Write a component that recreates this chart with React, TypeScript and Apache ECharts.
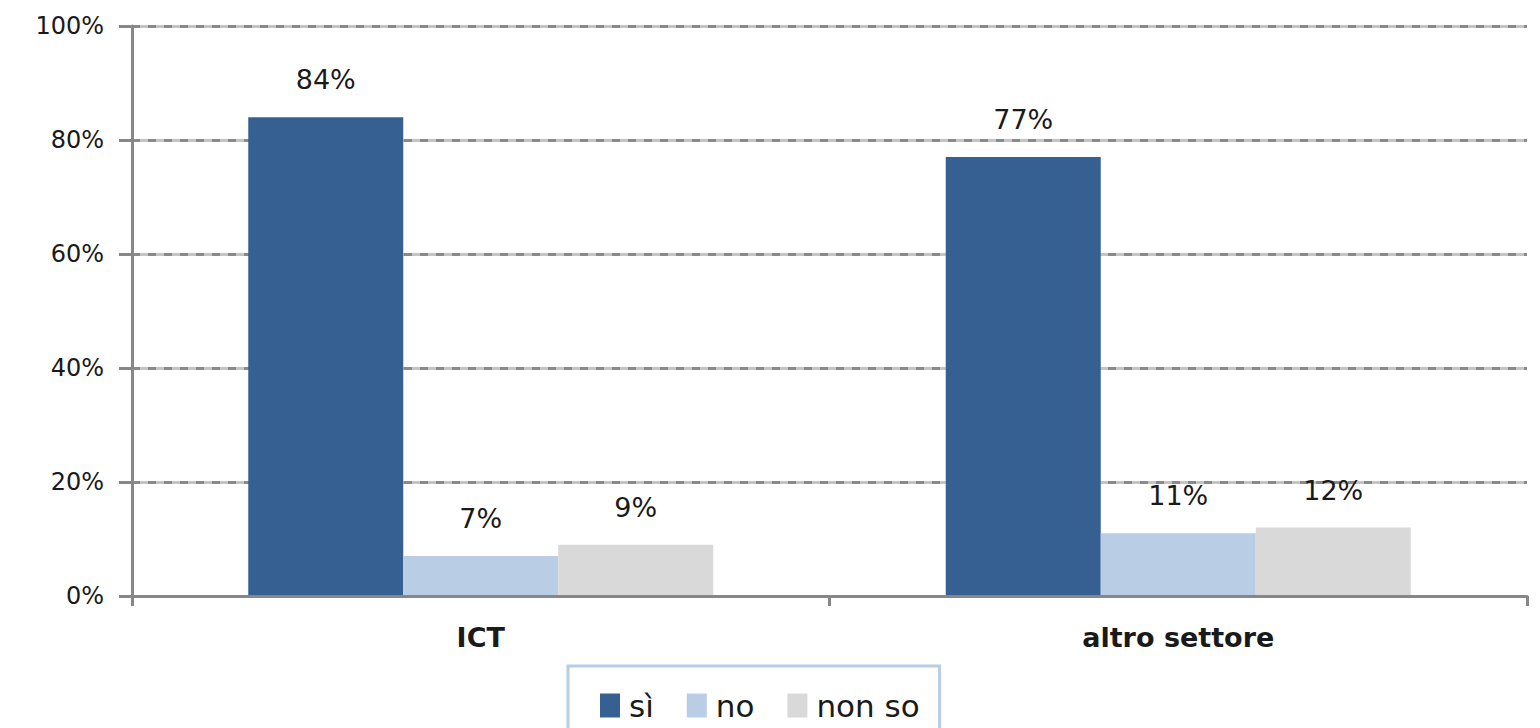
import React, { useEffect, useRef } from "react";
import * as echarts from "echarts";

const categories = ["ICT", "altro settore"];
const seriesNames = ["sì", "no", "non so"];
const siValues = [84, 77];
const noValues = [7, 11];
const nonSoValues = [9, 12];
const yTicks = [0, 20, 40, 60, 80, 100];
const colors = ["#366092", "#b9cde5", "#d9d9d9"];

const FONT = "DejaVu Sans";

export default function App() {
  const ref = useRef<HTMLDivElement>(null);
  useEffect(() => {
    if (!ref.current) return;
    const chart = echarts.init(ref.current, undefined, { renderer: "svg" });
    const valuesList = [siValues, noValues, nonSoValues];
    const yMax = yTicks[yTicks.length - 1];
    const yInterval = yTicks[1] - yTicks[0];
    chart.setOption({
      animation: false,
      backgroundColor: "#ffffff",
      grid: { left: 132, right: 13, top: 26, bottom: 132, containLabel: false },
      legend: {
        data: seriesNames,
        left: 568,
        top: 666,
        orient: "horizontal",
        itemWidth: 20,
        itemHeight: 24,
        itemGap: 33,
        icon: "rect",
        borderColor: "#b9cde5",
        borderWidth: 3,
        padding: [24, 20, 40, 32],
        textStyle: { fontFamily: FONT, fontSize: 31, color: "#1a1a1a", padding: [0, 0, 0, 4] },
      },
      xAxis: {
        type: "category",
        data: categories,
        z: 10,
        axisLine: { lineStyle: { color: "#878787", width: 3 } },
        axisTick: { show: true, length: 10, lineStyle: { color: "#878787", width: 3 } },
        axisLabel: { fontFamily: FONT, fontSize: 27, fontWeight: "bold", color: "#1a1a1a", margin: 28 },
      },
      yAxis: [
        {
          type: "value",
          min: 0,
          max: yMax,
          interval: yInterval,
          axisLine: { show: true, lineStyle: { color: "#878787", width: 3 } },
          axisTick: { show: true, length: 13, lineStyle: { color: "#878787", width: 3 } },
          axisLabel: {
            fontFamily: FONT,
            fontSize: 24,
            color: "#1a1a1a",
            margin: 28,
            formatter: (v: number) => v + "%",
          },
          splitLine: { show: true, lineStyle: { color: "#8a8a8a", width: 3, type: [8, 8] } },
          z: 2,
        },
        {
          type: "value",
          min: 0,
          max: yMax,
          interval: yInterval,
          axisLine: { show: false },
          axisTick: { show: false },
          axisLabel: { show: false },
          splitLine: { show: true, lineStyle: { color: "#c4c4c4", width: 3, type: "solid" } },
          z: 1,
        },
      ],
      series: seriesNames.map((name, i) => ({
        name,
        type: "bar",
        yAxisIndex: 0,
        data: valuesList[i],
        barWidth: 155,
        barGap: "0%",
        itemStyle: { color: colors[i] },
        label: {
          show: true,
          position: "top",
          distance: 24,
          fontFamily: FONT,
          fontSize: 27,
          color: "#1a1a1a",
          formatter: (p: any) => p.value + "%",
        },
        z: 3,
      })),
    });
    return () => chart.dispose();
  }, []);
  return (
    <div
      ref={ref}
      style={{ position: "fixed", left: 0, top: 0, width: 1540, height: 728 }}
    />
  );
}
